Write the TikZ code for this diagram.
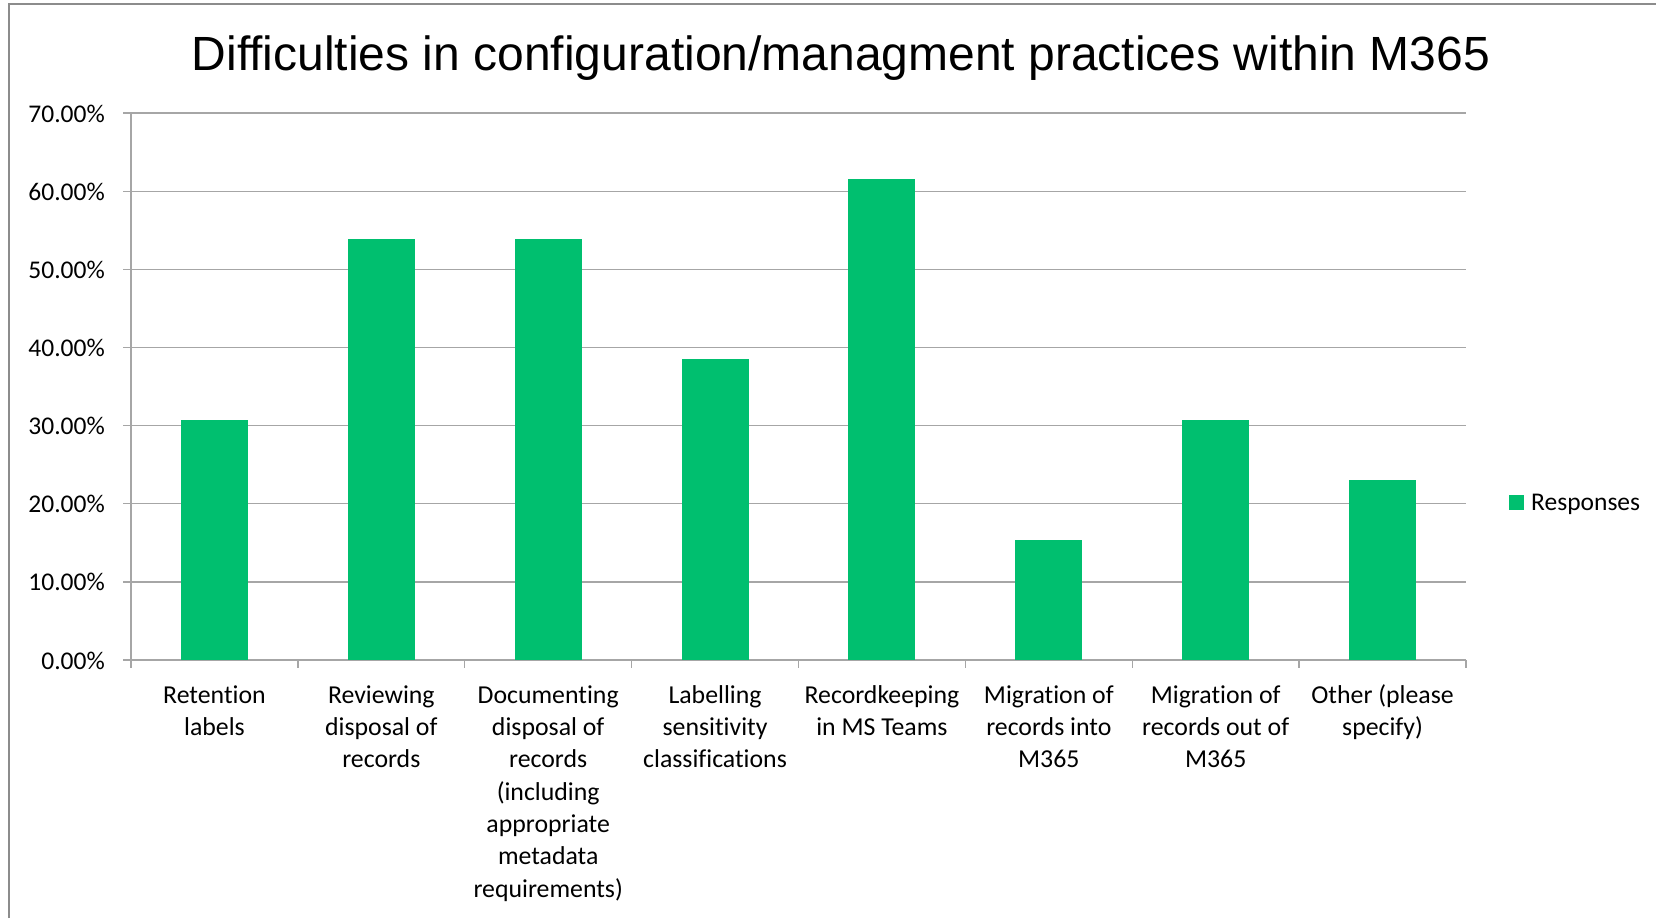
\documentclass[tikz,border=0pt]{standalone}
\usepackage{fontspec}
\setmainfont[Ligatures=NoCommon]{Carlito}
\newfontfamily\titlefont{Liberation Sans}
\definecolor{bargreen}{HTML}{00BF6F}
\definecolor{gridgray}{HTML}{A6A6A6}
\definecolor{framegray}{HTML}{8C8C8C}
\tikzset{
  gridline/.style={draw=gridgray, line width=1.3pt},
  barbox/.style={fill=bargreen, draw=none},
  ticklabel/.style={anchor=base east, inner sep=0pt, font=\fontsize{25.5}{30}\selectfont},
  catlabel/.style={anchor=north, inner sep=0pt, align=center, font=\fontsize{25.8}{32.3}\selectfont},
}
\begin{document}
\begin{tikzpicture}[x=1pt, y=-1pt]
\useasboundingbox (0,0) rectangle (1656,918);
% frame
\draw[framegray, line width=1.5pt] (9,918) -- (9,4) -- (1656,4);
% title
\node[anchor=base, inner sep=0pt, font=\titlefont\fontsize{48}{56}\selectfont] (title) at (841,70) {Difficulties in configuration/managment practices within M365};
% gridlines and y labels
\foreach \v/\lab in {0/0.00\%,10/10.00\%,20/20.00\%,30/30.00\%,40/40.00\%,50/50.00\%,60/60.00\%,70/70.00\%} {
  \draw[gridline] (123,{660-7.814*\v}) -- (1466,{660-7.814*\v});
  \node[ticklabel] (y\v) at (105,{660-7.814*\v+9}) {\lab};
}
% y axis
\draw[gridline] (131,113) -- (131,668);
% category ticks
\foreach \k in {1,...,8} {
  \draw[gridline] ({131+166.875*\k},660) -- ({131+166.875*\k},668);
}
% bars
\foreach \i/\val in {0/30.77,1/53.85,2/53.85,3/38.46,4/61.54,5/15.38,6/30.77,7/23.08} {
  \path[barbox] ({131+166.875*(\i+0.5)-33.5},660) rectangle ({131+166.875*(\i+0.5)+33.5},{660-7.814*\val});
}
% category labels
\node[catlabel] (c0) at ({131+166.875*0.5},680.4) {\strut Retention\\labels};
\node[catlabel] (c1) at ({131+166.875*1.5},680.4) {\strut Reviewing\\disposal of\\records};
\node[catlabel] (c2) at ({131+166.875*2.5},680.4) {\strut Documenting\\disposal of\\records\\(including\\appropriate\\metadata\\requirements)};
\node[catlabel] (c3) at ({131+166.875*3.5},680.4) {\strut Labelling\\sensitivity\\classifications};
\node[catlabel] (c4) at ({131+166.875*4.5},680.4) {\strut Recordkeeping\\in MS Teams};
\node[catlabel] (c5) at ({131+166.875*5.5},680.4) {\strut Migration of\\records into\\M365};
\node[catlabel] (c6) at ({131+166.875*6.5},680.4) {\strut Migration of\\records out of\\M365};
\node[catlabel] (c7) at ({131+166.875*7.5},680.4) {\strut Other (please\\specify)};
% legend
\path[barbox] (1509,495) rectangle (1524,510);
\node[anchor=base west, inner sep=0pt, font=\fontsize{25.5}{30}\selectfont] (leg) at (1531,510) {Responses};
\end{tikzpicture}
\end{document}
